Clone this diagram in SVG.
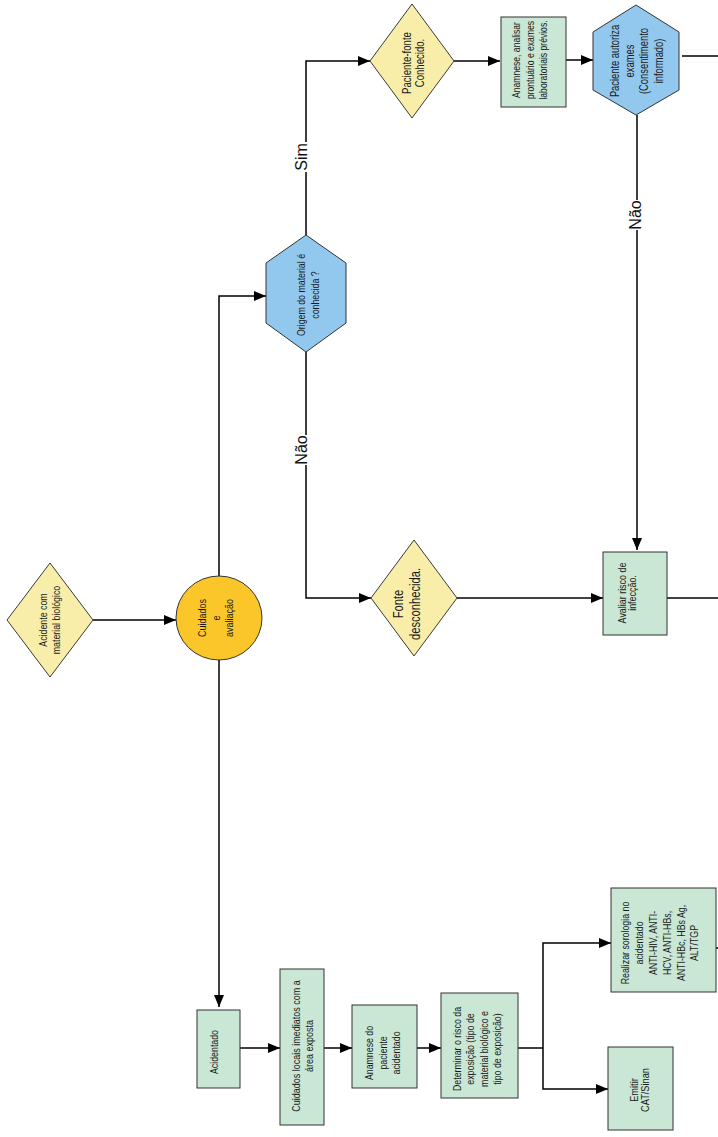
<svg xmlns="http://www.w3.org/2000/svg" width="718" height="1137" viewBox="0 0 718 1137">
<defs>
<marker id="arr" markerUnits="userSpaceOnUse" markerWidth="12" markerHeight="12" refX="12" refY="6" orient="auto">
<path d="M0,1 L12,6 L0,11 Z" fill="#000"/>
</marker>
<style>
.dia{fill:#F8EEAA;stroke:#3a3a3a;stroke-width:1}
.box{fill:#C9E7D4;stroke:#333;stroke-width:1}
.hex{fill:#92C8EE;stroke:#333;stroke-width:1}
.circ{fill:#FAC62A;stroke:#333;stroke-width:1}
.t{font-family:"Liberation Sans",Arial,sans-serif;font-size:11px;fill:#1a1a1a;text-anchor:middle}
.lbl{font-family:"Liberation Sans",Arial,sans-serif;font-size:16px;fill:#111;text-anchor:middle}
.c{fill:none;stroke:#000;stroke-width:1.5}
.ca{fill:none;stroke:#000;stroke-width:1.5;marker-end:url(#arr)}
</style>
</defs>
<rect width="718" height="1137" fill="#fff"/>

<g id="connectors">
<path class="ca" d="M93,620 L176,620"/>
<path class="ca" d="M219,576 L219,296 L266,296"/>
<path class="ca" d="M219,660 L219,1007"/>
<path class="c" d="M306,235 L306,172"/>
<path class="ca" d="M306,142 L306,61 L370,61"/>
<path class="c" d="M306,352 L306,435"/>
<path class="ca" d="M306,465 L306,598 L371,598"/>
<path class="ca" d="M454,61 L500,61"/>
<path class="ca" d="M566,60 L593,60"/>
<path class="c" d="M682,56 L718,56"/>
<path class="c" d="M637,115 L637,200"/>
<path class="ca" d="M637,230 L637,550"/>
<path class="ca" d="M457,598 L603,598"/>
<path class="c" d="M667,598 L718,598"/>
<path class="ca" d="M240,1048 L280,1048"/>
<path class="ca" d="M324,1048 L352,1048"/>
<path class="ca" d="M417,1048 L441,1048"/>
<path class="c" d="M518,1048 L543,1048"/>
<path class="ca" d="M543,1048 L543,943 L611,943"/>
<path class="ca" d="M543,1048 L543,1089 L608,1089"/>
<path class="c" d="M716,948 L718,948"/>
<text class="lbl" transform="translate(307,157) rotate(-90)">Sim</text>
<text class="lbl" transform="translate(307,450) rotate(-90)">Não</text>
<text class="lbl" transform="translate(641,215) rotate(-90)">Não</text>
</g>

<g id="n-acidente">
<polygon class="dia" points="50,563 93,620 50,677 7,620"/>
<text class="t" transform="translate(50,620) rotate(-90) scale(0.8,1)"><tspan x="0" y="-2.65">Acidente com</tspan><tspan x="0" y="10.35">material biológico</tspan></text>
</g>

<g id="n-cuidados">
<ellipse class="circ" cx="219" cy="618" rx="43" ry="42"/>
<text class="t" transform="translate(216,618) rotate(-90) scale(0.82,1)"><tspan x="0" y="-9.65">Cuidados</tspan><tspan x="0" y="3.85">e</tspan><tspan x="0" y="17.35">avaliação</tspan></text>
</g>

<g id="n-origem">
<polygon class="hex" points="306,235 346,263 346,323 306,352 266,323 266,263"/>
<text class="t" transform="translate(308,295) rotate(-90) scale(0.8,1)"><tspan x="0" y="-3.15">Origem do material é</tspan><tspan x="0" y="10.85">conhecida ?</tspan></text>
</g>

<g id="n-pacfonte">
<polygon class="dia" points="412,4 454,61 412,118 370,61"/>
<text class="t" style="font-size:12px" transform="translate(413,63) rotate(-90) scale(0.8,1)"><tspan x="0" y="-2.3">Paciente-fonte</tspan><tspan x="0" y="10.7">Conhecido.</tspan></text>
</g>

<g id="n-anamnese1">
<rect class="box" x="501" y="17" width="65" height="90"/>
<text class="t" transform="translate(530,60) rotate(-90) scale(0.78,1)"><tspan x="0" y="-9.65">Anamnese,  analisar</tspan><tspan x="0" y="3.85">prontuário e exames</tspan><tspan x="0" y="17.35">laboratoriais prévios.</tspan></text>
</g>

<g id="n-autoriza">
<polygon class="hex" points="636,5 679,32 679,90 636,115 593,90 593,32"/>
<text class="t" style="font-size:12px" transform="translate(637,61) rotate(-90) scale(0.78,1)"><tspan x="0" y="-17.55">Paciente autoriza</tspan><tspan x="0" y="-3.05">exames</tspan><tspan x="0" y="11.45">(Consentimento</tspan><tspan x="0" y="25.95">informado)</tspan></text>
</g>

<g id="n-fonte">
<polygon class="dia" points="414,540 457,598 414,656 371,598"/>
<text class="t" style="font-size:14px" transform="translate(407,604) rotate(-90) scale(0.8,1)"><tspan x="0" y="-3.6">Fonte</tspan><tspan x="0" y="13.4">desconhecida.</tspan></text>
</g>

<g id="n-avaliar">
<rect class="box" x="603" y="552" width="64" height="83"/>
<text class="t" style="font-size:10.5px" transform="translate(627,593) rotate(-90) scale(0.85,1)"><tspan x="0" y="-1.3">Avaliar risco de</tspan><tspan x="0" y="8.7">infecção.</tspan></text>
</g>

<g id="n-acidentado">
<rect class="box" x="197" y="1010" width="43" height="78"/>
<text class="t" transform="translate(214,1052) rotate(-90) scale(0.8,1)"><tspan x="0" y="3.85">Acidentado</tspan></text>
</g>

<g id="n-cuidlocais">
<rect class="box" x="280" y="969" width="44" height="156"/>
<text class="t" transform="translate(303,1046) rotate(-90) scale(0.82,1)"><tspan x="0" y="-2.65">Cuidados locais imediatos com a</tspan><tspan x="0" y="10.35">área  exposta</tspan></text>
</g>

<g id="n-anamnese2">
<rect class="box" x="352" y="1005" width="65" height="83"/>
<text class="t" transform="translate(383,1053) rotate(-90) scale(0.8,1)"><tspan x="0" y="-9.65">Anamnese do</tspan><tspan x="0" y="3.85">paciente</tspan><tspan x="0" y="17.35">acidentado</tspan></text>
</g>

<g id="n-determinar">
<rect class="box" x="441" y="993" width="77" height="105"/>
<text class="t" transform="translate(477,1049) rotate(-90) scale(0.8,1)"><tspan x="0" y="-16.4">Determinar o risco da</tspan><tspan x="0" y="-2.9">exposição (tipo de</tspan><tspan x="0" y="10.6">material biológico e</tspan><tspan x="0" y="24.1">tipo de exposição)</tspan></text>
</g>

<g id="n-realizar">
<rect class="box" x="611" y="888" width="105" height="104"/>
<text class="t" transform="translate(660,943) rotate(-90) scale(0.8,1)"><tspan x="0" y="-30.65">Realizar sorologia no</tspan><tspan x="0" y="-16.85">acidentado</tspan><tspan x="0" y="-3.05">ANTI-HIV, ANTI-</tspan><tspan x="0" y="10.75">HCV, ANTI-HBs,</tspan><tspan x="0" y="24.55">ANTI-HBc, HBs Ag,</tspan><tspan x="0" y="38.35">ALT/TGP</tspan></text>
</g>

<g id="n-emitir">
<rect class="box" x="608" y="1047" width="65" height="83"/>
<text class="t" transform="translate(640,1090) rotate(-90) scale(0.84,1)"><tspan x="0" y="-1.65">Emitir</tspan><tspan x="0" y="9.35">CAT/Sinan</tspan></text>
</g>
</svg>
